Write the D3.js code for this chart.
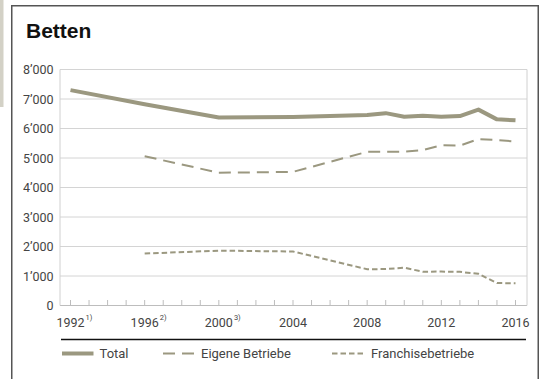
<!DOCTYPE html>
<html><head><meta charset="utf-8">
<script src="https://cdn.jsdelivr.net/npm/d3@7"></script>
<style>
body{margin:0;background:#fff;}
svg{display:block;font-family:Roboto, "Liberation Sans", sans-serif;}
</style></head>
<body><svg id="c" width="545" height="379"></svg>
<script>
const title = "Betten";
const years = [1992,1996,2000,2004,2008,2009,2010,2011,2012,2013,2014,2015,2016];
const total = [7300,6820,6370,6390,6460,6520,6400,6430,6400,6420,6640,6310,6280];
const eigeneYears = [1996,2000,2004,2008,2009,2010,2011,2012,2013,2014,2015,2016];
const eigene = [5060,4500,4530,5210,5210,5215,5265,5430,5420,5640,5610,5560];
const franchise = [1760,1860,1830,1230,1235,1280,1145,1150,1140,1075,760,755];
const tickYears = d3.range(1992,2017);
const labelYears = [1992,1996,2000,2004,2008,2012,2016];
const labelNotes = {1992:"1)",1996:"2)",2000:"3)"};
const yTicks = [0,1000,2000,3000,4000,5000,6000,7000,8000];
const legendNames = ["Total","Eigene Betriebe","Franchisebetriebe"];

const col = "#9b9880";
const svg = d3.select("#c");
// left grey strip and frame
svg.append("rect").attr("x",0).attr("y",0).attr("width",3.5).attr("height",107).attr("fill","#d3d1c6");
svg.append("path").attr("d","M11.75,380V5.75H538.25V380").attr("fill","none").attr("stroke","#555").attr("stroke-width",1.5);

svg.append("text").attr("x",26).attr("y",37.5).attr("font-family","'Liberation Sans', Arial, sans-serif")
  .attr("font-weight","bold").attr("font-size",21).attr("fill","#111").text(title);

const x = d3.scaleLinear().domain([1992,2016]).range([70.5,515.5]);
const y = d3.scaleLinear().domain([0,8000]).range([305.5,69.5]);
const L = 60, R = 527;

const fmt = v => v===0 ? "0" : d3.format(",")(v).replace(/,/g,"\u2019");
// grid
svg.append("g").selectAll("line").data(yTicks).join("line")
  .attr("x1",L).attr("x2",R).attr("y1",d=>y(d)).attr("y2",d=>y(d))
  .attr("stroke",d=>d===0?"#bdbdbd":"#d4d4d4").attr("stroke-width",1);
svg.append("line").attr("x1",L).attr("x2",L).attr("y1",y(8000)).attr("y2",y(0)).attr("stroke","#d0d0d0");
svg.append("line").attr("x1",R).attr("x2",R).attr("y1",y(8000)).attr("y2",y(0)).attr("stroke","#d0d0d0");
svg.append("g").selectAll("text").data(yTicks).join("text")
  .attr("x",53.5).attr("y",d=>y(d)).attr("dy","0.36em").attr("text-anchor","end")
  .attr("font-size",12.5).attr("fill","#444").text(fmt);
// x ticks
svg.append("g").selectAll("line").data(tickYears).join("line")
  .attr("x1",d=>x(d)).attr("x2",d=>x(d)).attr("y1",y(0)-5.5).attr("y2",y(0))
  .attr("stroke","#bdbdbd");
const xl = svg.append("g").selectAll("g").data(labelYears).join("g");
xl.each(function(d){
  const g = d3.select(this);
  const t = g.append("text").attr("x",x(d)).attr("y",326.5).attr("text-anchor","middle")
    .attr("font-size",12.5).attr("fill","#444").text(d);
  if(labelNotes[d]){
    const w = t.node().getComputedTextLength();
    g.append("text").attr("x",x(d)+w/2+1).attr("y",319.5).attr("font-size",7.5).attr("fill","#444").text(labelNotes[d]);
  }
});

const line = d3.line().x(d=>x(d[0])).y(d=>y(d[1]));
svg.append("path").datum(years.map((yr,i)=>[yr,total[i]])).attr("d",line)
  .attr("fill","none").attr("stroke",col).attr("stroke-width",4).attr("stroke-linejoin","round");
svg.append("path").datum(eigeneYears.map((yr,i)=>[yr,eigene[i]])).attr("d",line)
  .attr("fill","none").attr("stroke",col).attr("stroke-width",2).attr("stroke-dasharray","12,7");
svg.append("path").datum(eigeneYears.map((yr,i)=>[yr,franchise[i]])).attr("d",line)
  .attr("fill","none").attr("stroke",col).attr("stroke-width",2).attr("stroke-dasharray","5.5,3");

// separator
svg.append("line").attr("x1",61).attr("x2",526).attr("y1",339.5).attr("y2",339.5).attr("stroke","#111").attr("stroke-width",1.5);

// legend
const lg = [
  {x0:62,x1:93.5,w:4,dash:null,tx:99.5},
  {x0:163,x1:194,w:2,dash:"12,7",tx:201},
  {x0:332,x1:364,w:2,dash:"5.5,3",tx:371}
];
lg.forEach((o,i)=>{
  svg.append("line").attr("x1",o.x0).attr("x2",o.x1).attr("y1",353.5).attr("y2",353.5)
    .attr("stroke",col).attr("stroke-width",o.w).attr("stroke-dasharray",o.dash);
  svg.append("text").attr("x",o.tx).attr("y",358).attr("font-size",13).attr("fill","#444").text(legendNames[i]);
});
</script></body></html>
